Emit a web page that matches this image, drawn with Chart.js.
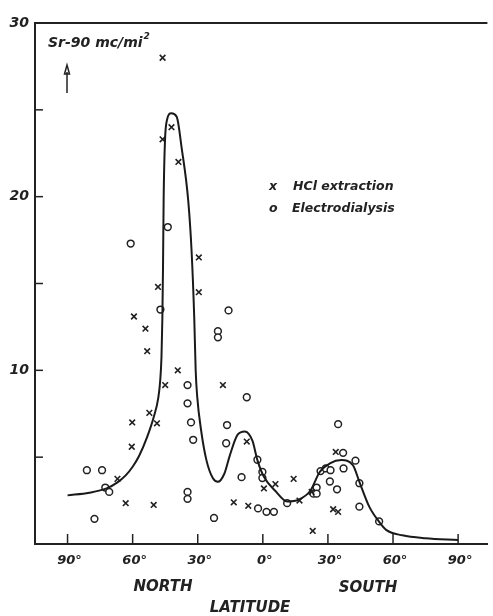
<!DOCTYPE html>
<html>
<head>
<meta charset="utf-8">
<script src="https://cdn.jsdelivr.net/npm/chart.js@4.4.0/dist/chart.umd.min.js"></script>
<style>
  html, body { margin: 0; padding: 0; background: #fff; }
  #wrap { width: 493px; height: 616px; }
</style>
</head>
<body>
<div id="wrap"><canvas id="srChart" width="493" height="616"></canvas></div>
<script>
"use strict";

// latitude: negative = north, positive = south
var xTicks = [-90, -60, -30, 0, 30, 60, 90];
var yTicks = [10, 20, 30];
var yMinorTicks = [5, 15, 25];

// smoothed curve
var curveLat = [-90, -80, -72, -67, -63.2, -60, -57.1, -53.3, -50.3, -48.2, -47.3, -46.7, -46.3, -46.0, -45.7, -45.1, -44.2, -42.2, -39.7, -37.4, -34.4, -32.85, -31.6, -30.95, -30.25, -28.45, -26, -23, -20.7, -17.7, -15.4, -11.6, -8.3, -4.8, -2.5, 0.5, 5.8, 11.2, 16.5, 21.8, 26.3, 30.9, 36.2, 41.5, 44.5, 49.1, 53.6, 57, 64.3, 74.9, 90];
var curveVal = [2.8, 2.95, 3.2, 3.55, 3.95, 4.45, 5.05, 6.17, 7.3, 8.4, 9.4, 10.8, 13, 16, 20, 23.2, 24.4, 24.8, 24.6, 22.8, 19.8, 16.9, 13, 10, 8.5, 6.55, 4.83, 3.78, 3.58, 4.06, 5.02, 6.3, 6.48, 5.95, 4.83, 3.87, 3.05, 2.45, 2.55, 3.05, 4.16, 4.64, 4.83, 4.54, 3.58, 2.14, 1.28, 0.8, 0.5, 0.33, 0.23];

// HCl extraction
var hclLat = [-46.2, -42.1, -46.2, -38.9, -29.5, -48.3, -29.5, -59.4, -54.1, -53.3, -39.2, -45, -18.4, -52.3, -60.2, -48.8, -60.4, -7.4, -67, -63.2, -50.3, -13.4, -6.7, 0.5, 5.8, 14.2, 16.9, 22.5, 33.6, 32.4, 34.7, 23];
var hclVal = [28.0, 24.0, 23.3, 22.0, 16.5, 14.8, 14.5, 13.1, 12.4, 11.1, 10.0, 9.15, 9.15, 7.55, 7.0, 6.95, 5.6, 5.9, 3.75, 2.35, 2.25, 2.4, 2.2, 3.2, 3.45, 3.75, 2.5, 3.0, 5.3, 2.0, 1.85, 0.75];

// Electrodialysis
var edLat = [-43.8, -60.9, -47.2, -15.8, -20.7, -20.7, -34.7, -7.4, -34.7, -33.1, -16.5, -32.1, -16.9, -81.1, -74.1, -9.8, -72.6, -70.8, -34.7, -34.7, -77.6, -22.5, 34.7, 37, 42.7, -2.5, -0.2, -0.2, 26.6, 29.0, 31.2, 37.2, 30.9, 34.2, 44.5, 24.8, 23.3, 24.8, 11.2, -2.2, 1.7, 5.1, 44.5, 53.6];
var edVal = [18.25, 17.3, 13.5, 13.45, 12.25, 11.9, 9.15, 8.45, 8.1, 7.0, 6.85, 6.0, 5.8, 4.25, 4.25, 3.85, 3.25, 3.0, 3.0, 2.6, 1.45, 1.5, 6.9, 5.25, 4.8, 4.85, 4.15, 3.8, 4.2, 4.35, 4.25, 4.35, 3.6, 3.15, 3.5, 3.25, 2.9, 2.9, 2.35, 2.05, 1.85, 1.85, 2.15, 1.3];

function toPoints(xs, ys) {
  return xs.map(function (x, i) { return { x: x, y: ys[i] }; });
}

var FAMILY = "'DejaVu Sans', sans-serif";

function font(size) {
  return "italic bold " + size + "px " + FAMILY;
}

var decorPlugin = {
  id: 'decor',
  afterDraw: function (chart) {
    var ctx = chart.ctx;
    var area = chart.chartArea;
    var xs = chart.scales.x;
    var ys = chart.scales.y;
    ctx.save();
    ctx.strokeStyle = '#222';
    ctx.lineWidth = 2;
    // top frame line
    ctx.beginPath();
    ctx.moveTo(area.left, area.top);
    ctx.lineTo(area.right, area.top);
    ctx.stroke();
    // inside ticks
    ctx.lineWidth = 1.5;
    xTicks.forEach(function (v) {
      var px = xs.getPixelForValue(v);
      ctx.beginPath();
      ctx.moveTo(px, area.bottom);
      ctx.lineTo(px, area.bottom - 10);
      ctx.stroke();
    });
    yTicks.concat(yMinorTicks).forEach(function (v) {
      var py = ys.getPixelForValue(v);
      ctx.beginPath();
      ctx.moveTo(area.left, py);
      ctx.lineTo(area.left + 8, py);
      ctx.stroke();
    });

    ctx.fillStyle = '#222';
    ctx.textBaseline = 'middle';

    // x tick labels
    ctx.font = font(13);
    ctx.textAlign = 'center';
    xTicks.forEach(function (v) {
      ctx.fillText(Math.abs(v) + '°', xs.getPixelForValue(v) + 2, 561);
    });

    ctx.textAlign = 'left';
    // unit label
    ctx.font = font(14);
    var unit = 'Sr-90 mc/mi';
    ctx.fillText(unit, 48, 43);
    var w = ctx.measureText(unit).width;
    ctx.font = font(9);
    ctx.fillText('2', 48 + w + 1, 37);
    // arrow
    ctx.lineWidth = 1.5;
    ctx.beginPath();
    ctx.moveTo(67, 93);
    ctx.lineTo(67, 72);
    ctx.stroke();
    ctx.beginPath();
    ctx.moveTo(64.5, 74);
    ctx.lineTo(67, 65);
    ctx.lineTo(69.5, 74);
    ctx.closePath();
    ctx.stroke();

    // legend
    ctx.font = font(12.5);
    ctx.fillText('x', 269, 187);
    ctx.fillText('HCl extraction', 293, 187);
    ctx.fillText('o', 269, 209);
    ctx.fillText('Electrodialysis', 292, 209);

    // bottom words
    ctx.font = font(15);
    ctx.textAlign = 'center';
    ctx.fillText('NORTH', 163, 587);
    ctx.fillText('SOUTH', 368, 588);
    ctx.fillText('LATITUDE', 250, 608);
    ctx.restore();
  }
};

var ctx = document.getElementById('srChart').getContext('2d');
var myChart = new Chart(ctx, {
  type: 'scatter',
  data: {
    datasets: [{
      label: 'curve',
      data: toPoints(curveLat, curveVal),
      showLine: true,
      borderColor: '#1a1a1a',
      borderWidth: 2,
      pointRadius: 0,
      cubicInterpolationMode: 'monotone',
      fill: false
    }, {
      label: 'HCl extraction',
      data: toPoints(hclLat, hclVal),
      pointStyle: 'crossRot',
      pointRadius: 4,
      borderColor: '#222',
      borderWidth: 1.6,
      backgroundColor: '#222'
    }, {
      label: 'Electrodialysis',
      data: toPoints(edLat, edVal),
      pointStyle: 'circle',
      pointRadius: 3.4,
      borderColor: '#222',
      borderWidth: 1.5,
      backgroundColor: '#fff'
    }]
  },
  options: {
    responsive: false,
    animation: false,
    layout: { padding: { top: 23, right: 0, left: 0, bottom: 0 } },
    plugins: {
      legend: { display: false },
      tooltip: { enabled: false }
    },
    scales: {
      x: {
        type: 'linear',
        min: -105,
        max: 103.5,
        afterFit: function (scale) { scale.height = 72; },
        grid: { display: false, drawTicks: false },
        border: { display: true, color: '#222', width: 2 },
        ticks: { display: false }
      },
      y: {
        type: 'linear',
        min: 0,
        max: 30,
        afterFit: function (scale) { scale.width = 35; },
        afterBuildTicks: function (scale) {
          scale.ticks = yTicks.map(function (v) { return { value: v }; });
        },
        grid: { display: false, drawTicks: false },
        border: { display: true, color: '#222', width: 2 },
        ticks: {
          padding: 6,
          color: '#222',
          font: { family: FAMILY, size: 14, style: 'italic', weight: 'bold' }
        }
      }
    }
  },
  plugins: [decorPlugin]
});
</script>
</body>
</html>
